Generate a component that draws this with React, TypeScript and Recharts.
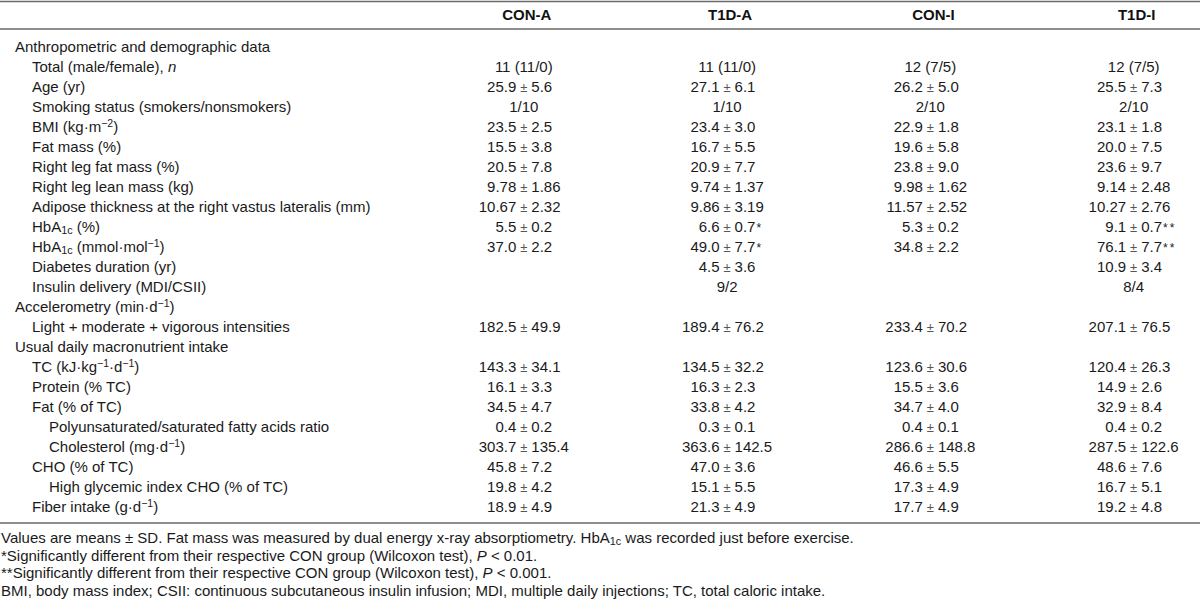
import { ScatterChart, Scatter, XAxis, YAxis, Customized } from "recharts";

document.body.style.margin = "0";

// Column headers
const groups = ["CON-A", "T1D-A", "CON-I", "T1D-I"];

// Row labels (^{} superscript, _{} subscript, ~{} italic)
const rowLabels = [
    "Anthropometric and demographic data",
    "Total (male/female), ~{n}",
    "Age (yr)",
    "Smoking status (smokers/nonsmokers)",
    "BMI (kg·m^{−2})",
    "Fat mass (%)",
    "Right leg fat mass (%)",
    "Right leg lean mass (kg)",
    "Adipose thickness at the right vastus lateralis (mm)",
    "HbA_{1c} (%)",
    "HbA_{1c} (mmol·mol^{−1})",
    "Diabetes duration (yr)",
    "Insulin delivery (MDI/CSII)",
    "Accelerometry (min·d^{−1})",
    "Light + moderate + vigorous intensities",
    "Usual daily macronutrient intake",
    "TC (kJ·kg^{−1}·d^{−1})",
    "Protein (% TC)",
    "Fat (% of TC)",
    "Polyunsaturated/saturated fatty acids ratio",
    "Cholesterol (mg·d^{−1})",
    "CHO (% of TC)",
    "High glycemic index CHO (% of TC)",
    "Fiber intake (g·d^{−1})",
];

// Indent level of each row
const rowIndent = [0, 1, 1, 1, 1, 1, 1, 1, 1, 1, 1, 1, 1, 0, 1, 0, 1, 1, 1, 2, 2, 1, 2, 1];

const conA = [
    "", "11 (11/0)", "25.9 ± 5.6", "1/10", "23.5 ± 2.5", "15.5 ± 3.8", "20.5 ± 7.8",
    "9.78 ± 1.86", "10.67 ± 2.32", "5.5 ± 0.2", "37.0 ± 2.2", "", "", "", "182.5 ± 49.9",
    "", "143.3 ± 34.1", "16.1 ± 3.3", "34.5 ± 4.7", "0.4 ± 0.2", "303.7 ± 135.4",
    "45.8 ± 7.2", "19.8 ± 4.2", "18.9 ± 4.9",
];
const t1dA = [
    "", "11 (11/0)", "27.1 ± 6.1", "1/10", "23.4 ± 3.0", "16.7 ± 5.5", "20.9 ± 7.7",
    "9.74 ± 1.37", "9.86 ± 3.19", "6.6 ± 0.7*", "49.0 ± 7.7*", "4.5 ± 3.6", "9/2", "",
    "189.4 ± 76.2", "", "134.5 ± 32.2", "16.3 ± 2.3", "33.8 ± 4.2", "0.3 ± 0.1",
    "363.6 ± 142.5", "47.0 ± 3.6", "15.1 ± 5.5", "21.3 ± 4.9",
];
const conI = [
    "", "12 (7/5)", "26.2 ± 5.0", "2/10", "22.9 ± 1.8", "19.6 ± 5.8", "23.8 ± 9.0",
    "9.98 ± 1.62", "11.57 ± 2.52", "5.3 ± 0.2", "34.8 ± 2.2", "", "", "", "233.4 ± 70.2",
    "", "123.6 ± 30.6", "15.5 ± 3.6", "34.7 ± 4.0", "0.4 ± 0.1", "286.6 ± 148.8",
    "46.6 ± 5.5", "17.3 ± 4.9", "17.7 ± 4.9",
];
const t1dI = [
    "", "12 (7/5)", "25.5 ± 7.3", "2/10", "23.1 ± 1.8", "20.0 ± 7.5", "23.6 ± 9.7",
    "9.14 ± 2.48", "10.27 ± 2.76", "9.1 ± 0.7**", "76.1 ± 7.7**", "10.9 ± 3.4", "8/4", "",
    "207.1 ± 76.5", "", "120.4 ± 26.3", "14.9 ± 2.6", "32.9 ± 8.4", "0.4 ± 0.2",
    "287.5 ± 122.6", "48.6 ± 7.6", "16.7 ± 5.1", "19.2 ± 4.8",
];

const footnotes = [
    "Values are means ± SD. Fat mass was measured by dual energy x-ray absorptiometry. HbA_{1c} was recorded just before exercise.",
    "*Significantly different from their respective CON group (Wilcoxon test), ~{P} < 0.01.",
    "**Significantly different from their respective CON group (Wilcoxon test), ~{P} < 0.001.",
    "BMI, body mass index; CSII: continuous subcutaneous insulin infusion; MDI, multiple daily injections; TC, total caloric intake.",
];

const groupValues = [conA, t1dA, conI, t1dI];

const W = 1200;
const H = 614;
const FONT = '"Liberation Sans", Arial, sans-serif';
const FS = 15;
const INK = "#1a1a1a";
const RULE = "#6a6a6a";

const cells = groupValues.flatMap((vals, g) =>
    vals.map((text, row) => ({ col: g + 1, row, text })).filter((d) => d.text)
);

// Render a label with sub/superscript and italic markers
function Rich({ text }: { text: string }) {
    const parts = text.split(/(\^\{[^}]*\}|_\{[^}]*\}|~\{[^}]*\})/).filter(Boolean);
    return (
        <>
            {parts.map((p, i) => {
                if (p.startsWith("^{"))
                    return (
                        <tspan key={i} baselineShift={5} fontSize="0.7em">
                            {p.slice(2, -1)}
                        </tspan>
                    );
                if (p.startsWith("_{"))
                    return (
                        <tspan key={i} baselineShift={-2} fontSize="0.72em">
                            {p.slice(2, -1)}
                        </tspan>
                    );
                if (p.startsWith("~{"))
                    return (
                        <tspan key={i} fontStyle="italic">
                            {p.slice(2, -1)}
                        </tspan>
                    );
                return <tspan key={i}>{p}</tspan>;
            })}
        </>
    );
}

// A value cell, aligned on the ± sign
function ValueCell(props: any) {
    const { cx, cy, payload } = props;
    const t: string = payload.text;
    const common = { y: cy, dy: "0.36em", fontFamily: FONT, fontSize: FS, fill: INK };
    if (!t.includes("±")) {
        return (
            <text {...common} x={cx} textAnchor="middle">
                {t}
            </text>
        );
    }
    const [left, rightRaw] = t.split(" ± ");
    const stars = rightRaw.match(/\*+$/)?.[0] ?? "";
    const right = rightRaw.replace(/\*+$/, "");
    return (
        <g>
            <text {...common} x={cx - 7.5} textAnchor="end">
                {left}
            </text>
            <text {...common} x={cx} textAnchor="middle" fontSize={13} fill="#555">
                ±
            </text>
            <text {...common} x={cx + 7.5} textAnchor="start">
                {right}
                {stars && (
                    <tspan fontSize="0.8em" dx={1} letterSpacing={2}>
                        {stars}
                    </tspan>
                )}
            </text>
        </g>
    );
}

function HeaderTick(props: any) {
    const { x, payload } = props;
    return (
        <text x={x + 3} y={15} dy="0.36em" textAnchor="middle" fontFamily={FONT} fontSize={FS} fontWeight="bold" fill="#111">
            {groups[payload.value - 1]}
        </text>
    );
}

function LabelTick(props: any) {
    const { y, payload } = props;
    const i = payload.value;
    return (
        <text x={15 + rowIndent[i] * 17} y={y} dy="0.36em" textAnchor="start" fontFamily={FONT} fontSize={FS} fill={INK}>
            <Rich text={rowLabels[i]} />
        </text>
    );
}

function Frame() {
    return (
        <g>
            <line x1={0} x2={W} y1={1.5} y2={1.5} stroke={RULE} strokeWidth={1.5} />
            <line x1={0} x2={W} y1={29} y2={29} stroke={RULE} strokeWidth={1.5} />
            <line x1={0} x2={W} y1={523} y2={523} stroke={RULE} strokeWidth={1.5} />
            {footnotes.map((f, i) => (
                <text key={i} x={1} y={538 + i * 17.5} dy="0.36em" fontFamily={FONT} fontSize={FS} fill={INK}>
                    <Rich text={f} />
                </text>
            ))}
        </g>
    );
}

export default function App() {
    return (
        <div style={{ width: W, height: H, background: "#fff" }}>
            <ScatterChart width={W} height={H} margin={{ top: 46, right: 0, bottom: 107, left: 0 }}>
                <XAxis
                    type="number"
                    dataKey="col"
                    orientation="top"
                    domain={[-1.5717, 4.3263]}
                    ticks={[1, 2, 3, 4]}
                    allowDataOverflow
                    height={1}
                    axisLine={false}
                    tickLine={false}
                    tick={<HeaderTick />}
                />
                <YAxis
                    type="number"
                    dataKey="row"
                    domain={[0, rowLabels.length - 1]}
                    reversed
                    ticks={rowLabels.map((_, i) => i)}
                    interval={0}
                    width={1}
                    axisLine={false}
                    tickLine={false}
                    tick={<LabelTick />}
                />
                <Customized component={<Frame />} />
                <Scatter data={cells} shape={<ValueCell />} isAnimationActive={false} />
            </ScatterChart>
        </div>
    );
}
